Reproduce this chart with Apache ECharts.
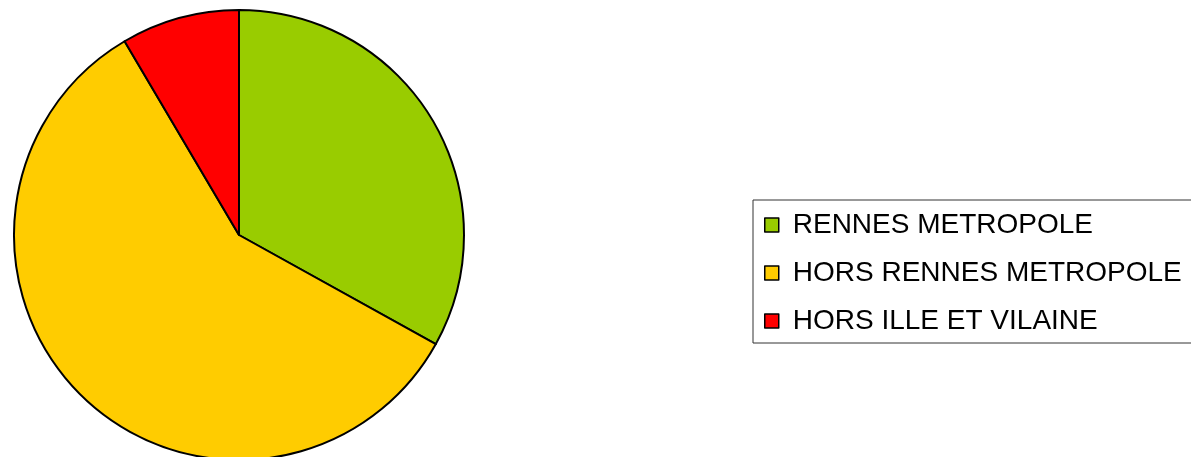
<!DOCTYPE html>
<html><head><meta charset="utf-8">
<script src="https://cdn.jsdelivr.net/npm/echarts@6/dist/echarts.min.js"></script>
<style>html,body{margin:0;padding:0;background:#fff}#c{width:1191px;height:457px}</style>
</head><body><div id="c"></div>
<script>
const categories = ['RENNES METROPOLE', 'HORS RENNES METROPOLE', 'HORS ILLE ET VILAINE'];
const values = [33.05, 58.46, 8.49];
const colors = ['#99cc00', '#ffcc00', '#ff0000'];

const chart = echarts.init(document.getElementById('c'), null, {renderer: 'canvas'});
chart.setOption({
  animation: false,
  backgroundColor: '#fff',
  legend: {
    orient: 'vertical',
    left: 753,
    top: 200,
    padding: [11, 60, 8, 11],
    borderColor: '#333',
    borderWidth: 1,
    itemWidth: 14,
    itemHeight: 14,
    itemGap: 20,
    icon: 'rect',
    itemStyle: {borderColor: '#000', borderWidth: 1.5},
    textStyle: {fontFamily: 'Liberation Sans', fontSize: 28, color: '#000', lineHeight: 28, padding: [0, 0, 0, 9]},
    data: categories
  },
  series: [{
    type: 'pie',
    center: [239, 235],
    radius: 225,
    startAngle: 90,
    clockwise: true,
    label: {show: false},
    labelLine: {show: false},
    emphasis: {disabled: true},
    itemStyle: {borderColor: '#000', borderWidth: 2},
    data: categories.map((n, i) => ({name: n, value: values[i], itemStyle: {color: colors[i]}}))
  }]
});
</script></body></html>
